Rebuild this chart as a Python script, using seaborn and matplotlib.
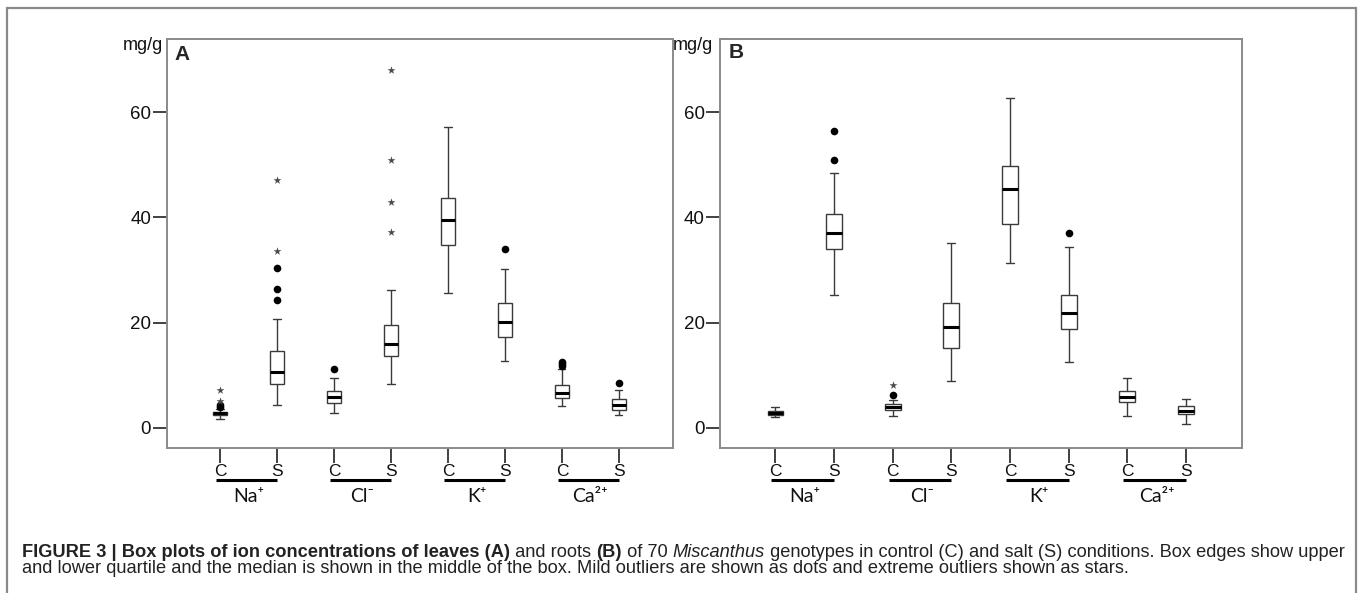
import numpy as np
import pandas as pd
import matplotlib
matplotlib.use("Agg")
import matplotlib.pyplot as plt
import seaborn as sns
from matplotlib import font_manager
from matplotlib.patches import Rectangle

# ---------------- data ----------------
groups = ["Na C", "Na S", "Cl C", "Cl S", "K C", "K S", "Ca C", "Ca S"]
cond_labels = ["C", "S", "C", "S", "C", "S", "C", "S"]
ion_labels = ["Na\u207a", "Cl\u207b", "K\u207a", "Ca\u00b2\u207a"]
y_ticks = [0, 20, 40, 60]

# Leaves (A): whisker low, Q1, median, Q3, whisker high
leaf_low = [1.8, 4.4, 2.9, 8.3, 25.7, 12.7, 4.2, 2.5]
leaf_q1 = [2.5, 8.4, 4.8, 13.7, 34.7, 17.3, 5.7, 3.5]
leaf_median = [2.8, 10.6, 5.8, 15.9, 39.5, 20.1, 6.6, 4.4]
leaf_q3 = [3.1, 14.6, 7.0, 19.5, 43.7, 23.8, 8.1, 5.6]
leaf_high = [3.6, 20.7, 9.5, 26.3, 57.1, 30.3, 11.2, 7.3]
leaf_mild_group = ["Na C", "Na C", "Na S", "Na S", "Na S", "Cl C", "K S",
                   "Ca C", "Ca C", "Ca C", "Ca S"]
leaf_mild_value = [4.0, 4.4, 24.4, 26.4, 30.4, 11.2, 34.1, 11.7, 12.1, 12.5, 8.6]
leaf_extreme_group = ["Na C", "Na C", "Na S", "Na S", "Cl S", "Cl S", "Cl S", "Cl S"]
leaf_extreme_value = [5.1, 7.3, 33.7, 47.2, 37.2, 42.9, 50.9, 68.1]

# Roots (B)
root_low = [2.0, 25.2, 2.3, 8.9, 31.4, 12.6, 2.3, 0.7]
root_q1 = [2.5, 34.0, 3.4, 15.2, 38.7, 18.9, 4.9, 2.6]
root_median = [2.8, 37.1, 3.9, 19.2, 45.4, 21.8, 5.8, 3.3]
root_q3 = [3.2, 40.7, 4.5, 23.7, 49.7, 25.2, 7.1, 4.2]
root_high = [3.9, 48.4, 5.3, 35.2, 62.7, 34.3, 9.5, 5.6]
root_mild_group = ["Na S", "Na S", "Cl C", "K S"]
root_mild_value = [50.9, 56.5, 6.3, 37.1]
root_extreme_group = ["Cl C"]
root_extreme_value = [8.2]

caption_runs_1 = [
    ("FIGURE 3 | Box plots of ion concentrations of leaves (A)", "bold", "normal"),
    (" and roots ", "normal", "normal"),
    ("(B)", "bold", "normal"),
    (" of 70 ", "normal", "normal"),
    ("Miscanthus", "normal", "italic"),
    (" genotypes in control (C) and salt (S) conditions. Box edges show upper", "normal", "normal"),
]
caption_line_2 = ("and lower quartile and the median is shown in the middle of the box. "
                  "Mild outliers are shown as dots and extreme outliers shown as stars.")

# ---------------- style ----------------
sns.set_theme(style="ticks")
avail = {f.name for f in font_manager.fontManager.ttflist}
narrow = "Liberation Sans Narrow" if "Liberation Sans Narrow" in avail else "Liberation Sans"
plt.rcParams["font.family"] = [narrow, "DejaVu Sans"]

W, H = 1360, 593
fig = plt.figure(figsize=(W / 100, H / 100), dpi=100)
fig.patch.set_facecolor("white")


def five_number_frame(low, q1, med, q3, high):
    rows = []
    for g, a, b, c, d, e in zip(groups, low, q1, med, q3, high):
        for v in (a, b, c, d, e):
            rows.append({"group": g, "value": v})
    return pd.DataFrame(rows)


def draw_panel(rect, low, q1, med, q3, high, mg, mv, eg, ev, width, xlim):
    ax = fig.add_axes(rect)
    df = five_number_frame(low, q1, med, q3, high)
    sns.boxplot(data=df, x="group", y="value", order=groups, whis=(0, 100),
                width=width, color="white", linecolor="#3a3a3a", linewidth=1.0,
                showfliers=False,
                medianprops={"color": "black", "linewidth": 2.2},
                ax=ax)
    sns.stripplot(x=mg, y=mv, order=groups, jitter=False, color="black",
                  marker="o", size=5.5, linewidth=0, ax=ax, zorder=4)
    sns.stripplot(x=eg, y=ev, order=groups, jitter=False, color="#4a4a4a",
                  marker="*", size=6.0, linewidth=0, ax=ax, zorder=4)
    ax.set_xlim(*xlim)
    ax.set_ylim(-3.8, 73.9)
    ax.set_yticks(y_ticks)
    ax.set_yticklabels([str(t) for t in y_ticks])
    ax.set_xticks(range(len(groups)))
    ax.set_xticklabels(cond_labels)
    ax.set_xlabel("")
    ax.set_ylabel("")
    for s in ax.spines.values():
        s.set_visible(True)
        s.set_color("#8a8a8a")
        s.set_linewidth(1.4)
    ax.tick_params(axis="y", length=10, width=1.3, color="#333333",
                   labelsize=13.5, pad=1, labelcolor="#111111")
    ax.tick_params(axis="x", length=11, width=1.3, color="#333333",
                   labelsize=12.5, pad=0.5, labelcolor="#111111")
    ax.set_facecolor("white")
    tr = ax.get_xaxis_transform()
    for i, lab in enumerate(ion_labels):
        x0 = 2 * i
        ax.plot([x0 - 0.07, x0 + 1.0], [-0.078, -0.078], color="black",
                linewidth=2.2, transform=tr, clip_on=False, solid_capstyle="butt")
        ax.text(x0 + 0.5, -0.118, lab, transform=tr, ha="center", va="center",
                fontsize=14, family=["Lato", "DejaVu Sans"], color="#111111")
    return ax


top_px, bot_px = 39, 448
fy0 = 1 - bot_px / H
fh = (bot_px - top_px) / H
axA = draw_panel([166.5 / W, fy0, (673 - 166.5) / W, fh],
                 leaf_low, leaf_q1, leaf_median, leaf_q3, leaf_high,
                 leaf_mild_group, leaf_mild_value, leaf_extreme_group, leaf_extreme_value,
                 0.25, (-0.94, 7.95))
axB = draw_panel([720 / W, fy0, (1242 - 720) / W, fh],
                 root_low, root_q1, root_median, root_q3, root_high,
                 root_mild_group, root_mild_value, root_extreme_group, root_extreme_value,
                 0.27, (-0.945, 7.955))

# unit labels and panel letters
fig.text(142.5 / W, 1 - 45 / H, "mg/g", ha="center", va="center", fontsize=13, color="#111111")
fig.text(693 / W, 1 - 45 / H, "mg/g", ha="center", va="center", fontsize=13, color="#111111")
fig.text(182 / W, 1 - 55 / H, "A", ha="center", va="center", fontsize=15,
         weight="bold", family=["Liberation Sans", "DejaVu Sans"])
fig.text(736 / W, 1 - 53 / H, "B", ha="center", va="center", fontsize=15,
         weight="bold", family=["Liberation Sans", "DejaVu Sans"])

# outer frame
fig.patches.append(Rectangle((7 / W, -0.02), (1356 - 7) / W, 1.02 - 8 / H,
                             transform=fig.transFigure, fill=False,
                             edgecolor="#8a8a8a", linewidth=1.6))

# caption with mixed styles, one size fitted to the reference line width
cap_family = ["Liberation Sans", "DejaVu Sans"]
renderer = fig.canvas.get_renderer()


def run_width(txt, size, weight, style):
    t = fig.text(0, 0, txt, fontsize=size, family=cap_family, weight=weight, style=style)
    w = t.get_window_extent(renderer=renderer).width
    t.remove()
    return w


base = 10.0
total = sum(run_width(t, base, wt, st) for t, wt, st in caption_runs_1)
cap_size = base * (1345 - 22) / total

cx = 22
for txt, wt, st in caption_runs_1:
    t = fig.text(cx / W, 1 - 557 / H, txt, fontsize=cap_size, va="baseline", ha="left",
                 family=cap_family, weight=wt, style=st, color="#222222")
    cx += t.get_window_extent(renderer=renderer).width
fig.text(22 / W, 1 - 573 / H, caption_line_2, fontsize=cap_size, va="baseline",
         ha="left", family=cap_family, color="#222222")

fig.savefig("out.png", dpi=100, facecolor="white")
